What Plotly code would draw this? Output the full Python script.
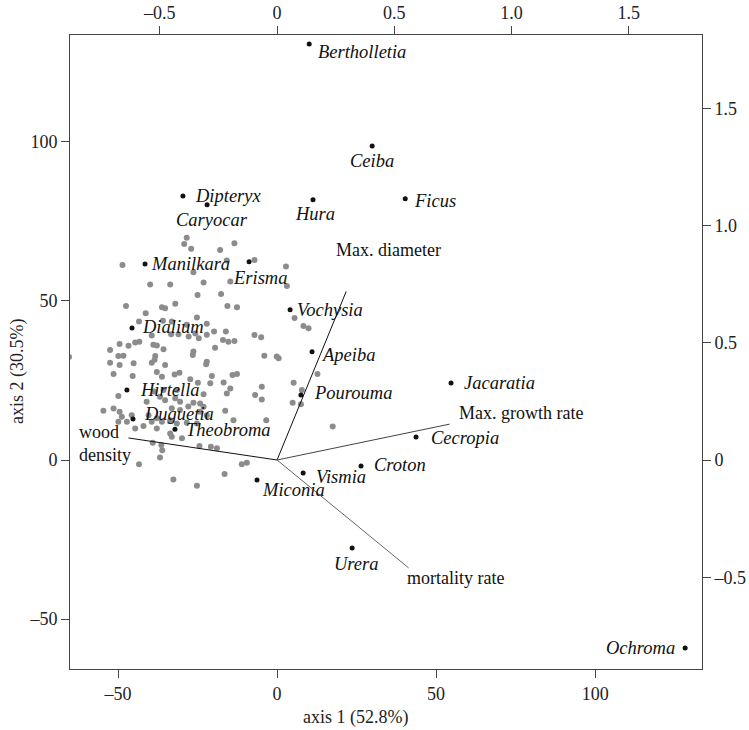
import plotly.graph_objects as go

# ---------------- data ----------------
named_species = ["Bertholletia", "Ceiba", "Ficus", "Hura", "Dipteryx", "Caryocar",
                 "Manilkara", "Erisma", "Vochysia", "Dialium", "Apeiba", "Pourouma",
                 "Jacaratia", "Hirtella", "Duguetia", "Theobroma", "Cecropia", "Croton",
                 "Vismia", "Miconia", "Urera", "Ochroma"]
named_axis1 = [10.1, 29.9, 40.3, 11.3, -29.6, -22.0, -41.5, -8.8, 4.1, -45.6, 11.0, 7.5,
               54.7, -47.2, -45.3, -32.1, 43.7, 26.4, 8.2, -6.3, 23.6, 128.3]
named_axis2 = [130.8, 98.7, 82.1, 81.8, 83.0, 80.2, 61.6, 62.3, 47.2, 41.5, 34.0, 20.4,
               24.2, 22.0, 12.9, 9.7, 7.2, -1.9, -4.1, -6.3, -27.7, -59.1]

other_axis1 = [-28.4, -29.2, -27.0, -17.9, -13.4, -48.6, -15.8, -7.1, 2.8, -26.3, -23.1, -39.9,
               -33.6, -14.7, 3.1, -25.0, -17.6, -47.5, -36.2, -35.2, -32.0, -15.6, -12.6, -41.3,
               -25.2, 5.5, -43.4, -35.9, -33.1, -28.4, -22.1, 8.3, 9.9, -49.5, -46.7, -44.6,
               -43.3, -39.4, -37.8, -35.7, -33.3, -31.0, -27.8, -25.7, -24.6, -22.1, -19.8, -17.0,
               -15.3, -13.4, -16.1, -7.1, -5.0, -19.5, -52.5, -49.9, -48.3, -38.9, -38.3, -26.3,
               -26.5, -4.0, -0.1, 0.5, -52.5, -49.5, -45.1, -39.4, -38.5, -35.2, -22.1, -22.3,
               -65.4,
               -51.4, -45.4, -37.8, -36.2, -32.2, -30.7, -20.5, -14.0, -12.6, 5.2, -24.9, -23.1,
               -31.5, -35.7, -38.6, -16.8, -15.8, -14.7, -4.8, -6.9, -4.8, 4.9, 7.8, 7.5,
               -49.9, -41.0, -36.8, -35.2, -32.0, -30.5, -26.3, -24.2, -23.1, -54.6, -51.4, -49.5,
               -48.8, -49.9, -47.2, -45.7, -40.4, -39.4, -42.0, -37.8, -36.2, -33.6, -31.5, -28.4,
               -25.2, -22.1, -24.2, -16.3, -13.7, -3.4, -44.6, -37.8, -33.6, -33.1, -29.9, -39.1,
               -36.4, -36.1, -36.8, -24.4, -20.8, -43.4, -32.6, -25.2, -16.5, -11.1, -9.5,
               -27.3, -21.0, -33.1, -30.5, -27.9, -18.9, 12.7, 17.5]
other_axis2 = [69.9, 67.9, 66.4, 66.0, 68.1, 61.3, 62.7, 62.9, 60.8, 59.0, 55.8, 55.2,
               55.2, 56.1, 54.7, 51.9, 52.2, 48.4, 48.0, 47.7, 49.1, 48.4, 48.0, 46.1,
               44.8, 44.6, 43.5, 43.8, 43.5, 42.5, 42.8, 42.1, 41.4, 36.5, 35.9, 36.9,
               37.2, 39.1, 36.0, 34.8, 39.5, 39.5, 38.8, 39.8, 38.3, 39.4, 40.4, 37.7,
               37.2, 37.4, 40.4, 39.3, 38.6, 35.3, 34.6, 32.7, 32.8, 36.2, 32.7, 34.1,
               33.0, 32.8, 32.5, 32.0, 30.6, 29.9, 30.4, 30.6, 31.5, 29.9, 30.9, 30.1,
               32.4,
               27.0, 26.4, 27.7, 26.2, 26.9, 27.4, 26.4, 26.7, 27.0, 24.3, 24.3, 20.7,
               22.0, 22.0, 21.5, 24.4, 20.9, 22.5, 23.0, 20.4, 19.0, 18.0, 22.0, 17.5,
               20.1, 18.3, 19.9, 18.8, 19.4, 18.3, 18.0, 17.8, 16.7, 15.5, 16.2, 15.2,
               13.6, 12.0, 12.0, 14.1, 14.1, 12.0, 10.7, 13.1, 12.0, 12.5, 11.5, 11.7,
               11.5, 14.1, 15.2, 15.5, 12.5, 12.5, 9.9, 9.9, 8.3, 7.3, 6.8, 5.4,
               4.7, 3.1, 0.8, 4.4, 4.2, -1.3, -6.1, -8.1, -4.4, -1.3, -0.9,
               25.4, 24.1, 16.3, 15.7, 16.8, 3.7, 27.0, 10.5]

var_names = ["Max. diameter", "Max. growth rate", "mortality rate", "wood<br>density"]
var_load1 = [0.295, 0.736, 0.561, -0.634]
var_load2 = [0.719, 0.153, -0.460, 0.094]

x_range = [-65.1, 133.6]
y_range = [-65.7, 133.6]
load_scale = 73.7
x_ticks = [-50, 0, 50, 100]
y_ticks = [-50, 0, 50, 100]
top_ticks = [-0.5, 0, 0.5, 1.0, 1.5]
right_ticks = [-0.5, 0, 0.5, 1.0, 1.5]

# ---------------- styles ----------------
FONT = "Liberation Serif, Times New Roman, serif"
label_style = {  # anchor, xshift, yshift (pixels)
    "Bertholletia": ("left", 7, -8), "Ceiba": ("center", 0, -15), "Ficus": ("left", 7, -2),
    "Hura": ("center", 2, -14), "Dipteryx": ("left", 10, 0), "Caryocar": ("center", 5, -15),
    "Manilkara": ("left", 4, 0), "Erisma": ("center", 11, -16), "Vochysia": ("left", 5, 0),
    "Dialium": ("left", 8, 1), "Apeiba": ("left", 7, -3), "Pourouma": ("left", 11, 2),
    "Jacaratia": ("left", 11, 0), "Hirtella": ("left", 11, 0), "Duguetia": ("left", 9, 5),
    "Theobroma": ("left", 9, -1), "Cecropia": ("left", 13, -1), "Croton": ("left", 11, 1),
    "Vismia": ("left", 11, -4), "Miconia": ("left", 3, -10), "Urera": ("center", 4, -16),
    "Ochroma": ("right", -8, 0),
}
var_style = {
    "Max. diameter": ("center", 42, 41, "#111"),
    "Max. growth rate": ("left", 7, 11, "#444"),
    "mortality rate": ("left", -4, -10, "#666"),
    "wood<br>density": ("left", -51, -6, "#111"),
}

fig = go.Figure()

fig.add_trace(go.Scatter(x=other_axis1, y=other_axis2, mode="markers",
                         marker=dict(size=6, color="#8c8c8c"), cliponaxis=True,
                         hoverinfo="skip"))

for name, l1, l2 in zip(var_names, var_load1, var_load2):
    fig.add_trace(go.Scatter(x=[0, l1], y=[0, l2], mode="lines", xaxis="x2", yaxis="y2",
                             line=dict(color=var_style[name][3], width=1), hoverinfo="skip"))

fig.add_trace(go.Scatter(x=named_axis1, y=named_axis2, mode="markers",
                         marker=dict(size=5, color="#111"), text=named_species,
                         hoverinfo="text"))

for name, a1, a2 in zip(named_species, named_axis1, named_axis2):
    anchor, xs, ys = label_style[name]
    fig.add_annotation(x=a1, y=a2, xref="x", yref="y", text=name, showarrow=False,
                       xanchor=anchor, yanchor="middle", xshift=xs, yshift=ys,
                       font=dict(family=FONT, size=18.5, color="#111", style="italic"))

for name, l1, l2 in zip(var_names, var_load1, var_load2):
    anchor, xs, ys, _ = var_style[name]
    fig.add_annotation(x=l1, y=l2, xref="x2", yref="y2", text=name, showarrow=False,
                       xanchor=anchor, yanchor="middle", xshift=xs, yshift=ys, align="left",
                       font=dict(family=FONT, size=18, color="#111"))

fig.add_annotation(x=0.451, y=-0.076, xref="paper", yref="paper", text="axis 1 (52.8%)",
                   showarrow=False, xanchor="center", yanchor="middle",
                   font=dict(family=FONT, size=18, color="#222"))
fig.add_annotation(x=-0.084, y=0.47, xref="paper", yref="paper", text="axis 2 (30.5%)",
                   showarrow=False, textangle=-90, xanchor="center", yanchor="middle",
                   font=dict(family=FONT, size=18, color="#222"))


def fmt(v):
    s = ("%g" % v) if v != 1.0 else "1.0"
    return s.replace("-", "\u2013")


axis_common = dict(showgrid=False, zeroline=False, showline=True, linecolor="#444",
                   linewidth=1, ticks="outside", ticklen=8, tickcolor="#444",
                   tickfont=dict(family=FONT, size=18, color="#222"), fixedrange=True,
                   automargin=False)

fig.update_layout(
    width=749, height=730,
    margin=dict(l=70, r=47, t=35, b=61, autoexpand=False),
    paper_bgcolor="white", plot_bgcolor="white",
    showlegend=False,
    font=dict(family=FONT, size=18, color="#222"),
    xaxis=dict(range=x_range, tickvals=x_ticks, ticktext=[fmt(v) for v in x_ticks],
               side="bottom", **axis_common),
    yaxis=dict(range=y_range, tickvals=y_ticks, ticktext=[fmt(v) for v in y_ticks],
               side="left", **axis_common),
    xaxis2=dict(range=[v / load_scale for v in x_range], tickvals=top_ticks,
                ticktext=[fmt(v) for v in top_ticks], overlaying="x", side="top",
                anchor="y", **axis_common),
    yaxis2=dict(range=[v / load_scale for v in y_range], tickvals=right_ticks,
                ticktext=[fmt(v) for v in right_ticks], overlaying="y", side="right",
                anchor="x", **axis_common),
)

fig.write_html("out.html", config={"displayModeBar": False},
               post_script="document.body.style.margin='0px';document.body.style.overflow='hidden';")
